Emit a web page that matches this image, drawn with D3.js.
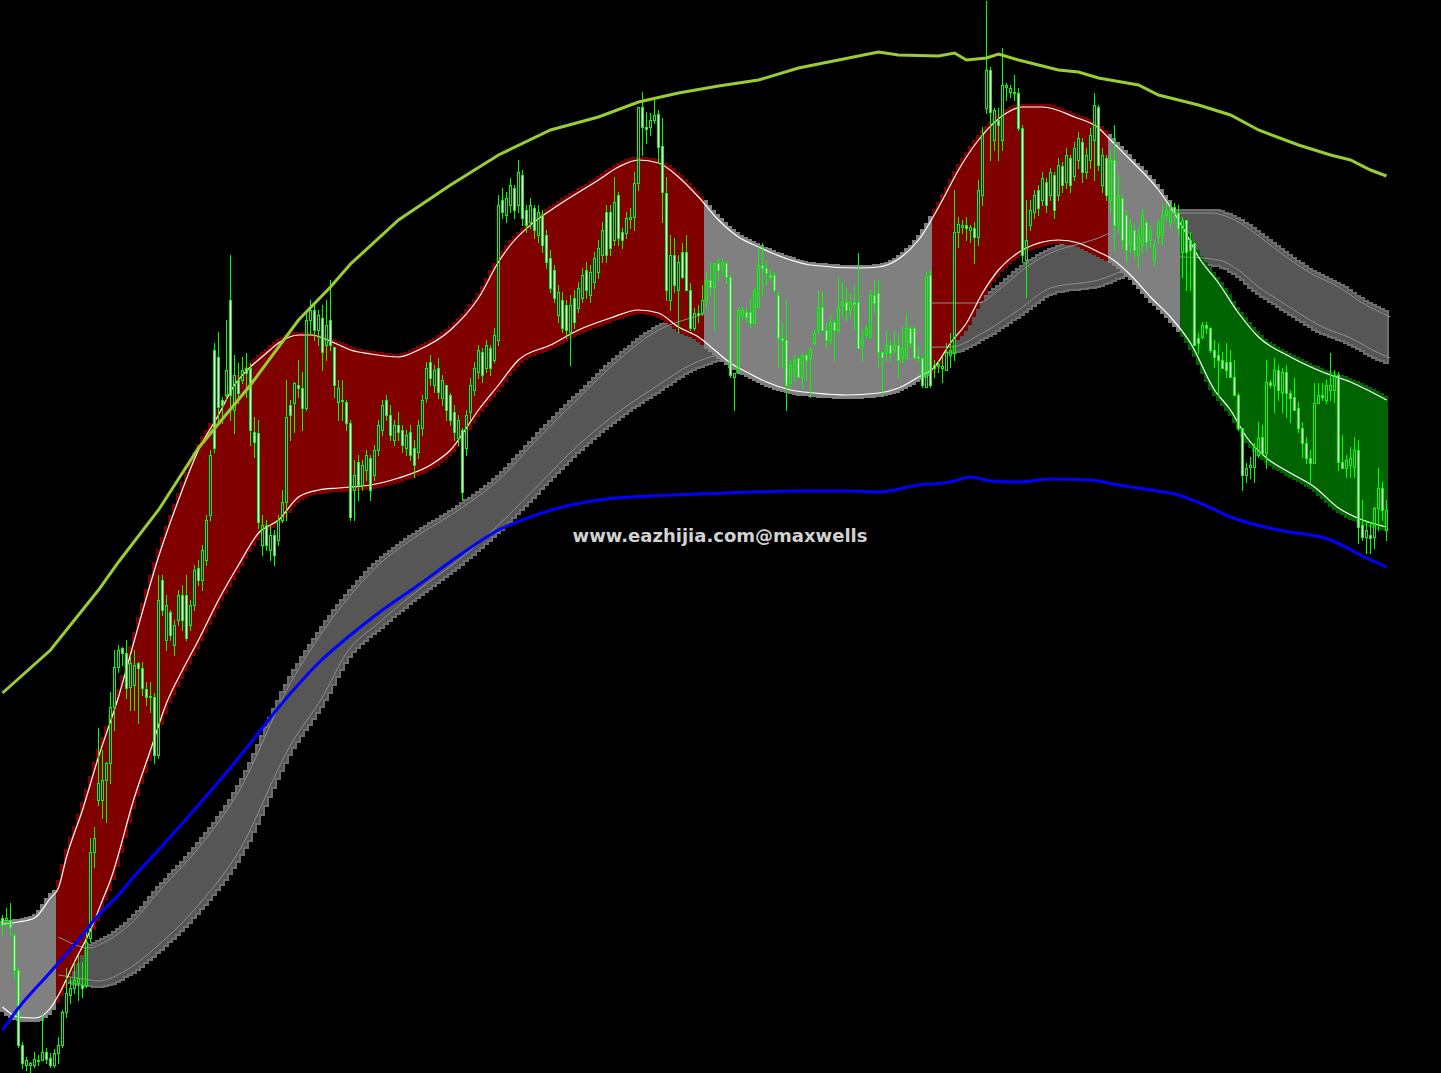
<!DOCTYPE html>
<html><head><meta charset="utf-8">
<script src="https://cdn.jsdelivr.net/npm/d3@7"></script>
<style>html,body{margin:0;padding:0;background:#000;overflow:hidden}</style>
</head><body>
<svg id="chart" width="1441" height="1073"></svg>
<script>
// ---------- DATA (price units; bar index 0..346) ----------
const candleOpen = [1082,1080,1080,1065,1030,955,935,935,935,940,940,948,942,935,947,955,988,1005,1012,1017,1015,1015,1062,1148,1200,1200,1220,1237,1293,1333,1352,1347,1313,1315,1337,1332,1311,1304,1303,1245,
1420,1360,1388,1355,1380,1405,1405,1375,1395,1432,1420,1440,1485,1650,1643,1600,1605,1700,1590,1620,
1620,1632,1632,1568,1567,1455,1475,1450,1465,1460,1480,1498,1595,1597,1615,1612,1592,1680,1690,1670,
1682,1655,1680,1653,1598,1600,1598,1577,1510,1538,1515,1530,1542,1525,1550,1570,1600,1585,1560,1575,
1570,1552,1568,1552,1548,1572,1602,1638,1615,1632,1602,1615,1605,1588,1562,1570,1552,1588,1610,1628,
1648,1632,1652,1640,1660,1800,1785,1795,1812,1795,1825,1790,1778,1792,1765,1785,1765,1742,1730,1685,
1700,1695,1668,1702,1692,1702,1730,1705,1718,1728,1745,1788,1788,1760,1805,1768,1767,1781,1783,1817,
1893,1873,1873,1880,1886,1854,1807,1700,1745,1710,1748,1748,1710,1672,1687,1687,1700,1720,1713,1737,
1734,1737,1723,1623,1627,1685,1688,1688,1677,1693,1735,1732,1725,1725,1705,1662,1660,1617,1630,1642,
1623,1645,1642,1657,1670,1693,1670,1660,1678,1670,1695,1698,1690,1698,1698,1655,1665,1663,1705,1707,
1648,1647,1655,1650,1655,1642,1642,1672,1672,1644,1642,1613,1725,1635,1634,1632,1630,1645,1647,1768,
1773,1775,1770,1772,1763,1805,1892,1930,1860,1880,1860,1913,1908,1907,1907,1872,1740,1775,1788,1810,
1800,1818,1805,1825,1805,1834,1818,1842,1824,1840,1858,1828,1840,1860,1893,1815,1842,1800,1840,1775,
1802,1785,1755,1770,1745,1755,1778,1760,1740,1763,1765,1785,1778,1793,1787,1748,1780,1760,1757,1662,
1663,1675,1672,1650,1645,1640,1638,1638,1623,1605,1572,1525,1533,1533,1545,1563,1547,1618,1615,1630,
1608,1628,1607,1603,1592,1572,1557,1542,1537,1597,1605,1600,1610,1610,1625,1538,1532,1535,1533,1550,
1475,1463,1465,1463,1492,1512,1470];
const candleHigh = [1085,1092,1097,1067,1032,958,943,938,948,945,985,952,947,951,963,990,1032,1023,1038,1045,1038,1070,1162,1173,1272,1250,1238,1308,1350,1355,1353,1360,1345,1350,1338,1338,1318,1318,1307,1425,
1425,1405,1390,1380,1410,1415,1425,1400,1435,1440,1455,1485,1550,1657,1668,1603,1680,1745,1645,1637,
1643,1647,1637,1583,1580,1485,1480,1475,1470,1485,1510,1620,1600,1618,1640,1628,1690,1700,1695,1690,
1695,1700,1720,1653,1620,1620,1600,1580,1540,1545,1540,1550,1545,1555,1580,1600,1605,1595,1580,1588,
1575,1570,1575,1560,1580,1605,1638,1645,1635,1642,1625,1615,1607,1595,1585,1572,1590,1622,1638,1655,
1652,1660,1655,1672,1805,1812,1808,1822,1815,1840,1830,1795,1802,1795,1795,1790,1770,1750,1735,1715,
1708,1700,1705,1710,1718,1732,1738,1735,1748,1760,1778,1795,1795,1823,1808,1772,1788,1792,1828,1893,
1908,1888,1887,1902,1890,1882,1823,1765,1762,1745,1757,1765,1717,1692,1695,1715,1728,1737,1737,1742,
1742,1738,1725,1627,1693,1693,1693,1702,1712,1753,1757,1740,1730,1728,1708,1677,1700,1640,1645,1643,
1647,1647,1653,1670,1710,1708,1677,1685,1680,1723,1718,1712,1707,1715,1747,1670,1675,1710,1720,1720,
1648,1670,1660,1670,1665,1673,1687,1673,1673,1655,1643,1728,1730,1640,1640,1643,1657,1667,1810,1783,
1780,1783,1775,1778,1820,1873,1999,1933,1892,1892,1952,1917,1915,1925,1912,1875,1800,1800,1810,1815,
1828,1822,1832,1828,1842,1838,1852,1845,1858,1868,1862,1852,1872,1907,1895,1852,1845,1850,1875,1825,
1805,1790,1782,1775,1772,1792,1780,1775,1760,1780,1795,1798,1798,1797,1795,1783,1780,1768,1758,1667,
1678,1678,1673,1660,1657,1648,1657,1650,1640,1607,1572,1537,1543,1557,1578,1575,1640,1620,1642,1635,
1632,1635,1610,1622,1598,1578,1563,1550,1617,1617,1617,1620,1647,1630,1628,1565,1545,1553,1563,1560,
1500,1480,1478,1493,1532,1518,1500];
const candleLow = [1065,1075,1065,1022,953,932,930,927,933,935,940,937,933,933,937,953,983,997,1007,1000,1003,1013,1058,1133,1195,1182,1178,1217,1270,1328,1335,1302,1290,1290,1277,1305,1295,1288,1237,1242,
1385,1350,1360,1345,1375,1370,1360,1370,1390,1415,1410,1435,1480,1548,1577,1577,1600,1580,1567,1597,
1617,1603,1555,1543,1472,1445,1450,1440,1435,1455,1478,1480,1560,1568,1603,1570,1590,1665,1660,1655,
1630,1640,1650,1603,1580,1580,1570,1480,1480,1500,1510,1520,1500,1520,1545,1565,1580,1560,1555,1560,
1548,1545,1540,1523,1542,1565,1598,1615,1608,1602,1595,1580,1575,1560,1555,1500,1545,1580,1605,1622,
1618,1628,1625,1638,1655,1782,1778,1788,1782,1788,1775,1768,1772,1762,1758,1748,1732,1708,1698,1678,
1668,1662,1635,1672,1688,1698,1702,1698,1712,1722,1738,1738,1745,1755,1755,1752,1762,1772,1770,1810,
1845,1857,1865,1877,1837,1778,1700,1690,1708,1668,1722,1710,1670,1670,1678,1685,1692,1705,1670,1720,
1725,1717,1623,1590,1627,1682,1678,1673,1677,1693,1705,1715,1720,1708,1633,1633,1590,1613,1620,1623,
1612,1620,1603,1655,1667,1670,1653,1657,1640,1668,1683,1680,1682,1672,1652,1640,1662,1663,1688,1633,
1605,1640,1640,1647,1623,1638,1642,1653,1642,1640,1613,1613,1613,1623,1628,1618,1630,1633,1640,1753,
1767,1760,1758,1737,1755,1795,1887,1840,1850,1840,1850,1900,1903,1900,1870,1738,1703,1770,1782,1785,
1795,1788,1800,1782,1800,1808,1812,1808,1820,1832,1818,1822,1832,1820,1830,1808,1800,1788,1750,1768,
1752,1738,1748,1742,1732,1748,1750,1753,1735,1757,1755,1778,1772,1777,1765,1723,1710,1710,1655,1647,
1662,1667,1648,1633,1605,1632,1623,1623,1605,1570,1510,1518,1522,1518,1543,1547,1532,1613,1588,1600,
1588,1583,1578,1590,1568,1543,1537,1518,1537,1597,1600,1597,1600,1598,1530,1532,1523,1523,1523,1457,
1460,1447,1447,1452,1470,1480,1460];
const candleClose = [1075,1082,1073,1030,955,937,940,937,941,939,948,941,935,947,955,988,1007,1012,1020,1022,1012,1058,1148,1162,1217,1220,1237,1293,1333,1350,1347,1312,1337,1335,1332,1312,1303,1303,1245,1400,
1390,1395,1365,1375,1405,1380,1362,1395,1430,1420,1450,1480,1545,1552,1593,1595,1630,1605,1625,1607,
1630,1627,1570,1558,1478,1475,1455,1465,1445,1480,1498,1583,1585,1617,1612,1592,1680,1690,1670,1685,
1648,1675,1655,1615,1612,1599,1577,1483,1525,1515,1535,1545,1510,1550,1575,1595,1585,1565,1575,1568,
1555,1565,1545,1535,1575,1600,1632,1622,1630,1608,1620,1590,1580,1568,1580,1508,1585,1615,1632,1650,
1625,1655,1632,1665,1795,1788,1802,1815,1790,1828,1782,1775,1795,1770,1788,1755,1738,1712,1702,1708,
1672,1670,1695,1678,1712,1725,1710,1728,1742,1752,1770,1745,1752,1798,1762,1760,1782,1783,1817,1893,
1873,1871,1880,1885,1853,1808,1710,1745,1715,1738,1723,1710,1672,1687,1685,1700,1720,1713,1737,1730,
1738,1723,1625,1627,1690,1690,1683,1677,1710,1735,1732,1727,1723,1710,1662,1660,1615,1635,1640,1623,
1645,1640,1652,1667,1693,1670,1660,1678,1670,1693,1698,1690,1698,1696,1652,1662,1672,1705,1697,1648,
1643,1655,1647,1655,1640,1652,1672,1657,1642,1642,1615,1723,1615,1632,1636,1634,1648,1650,1768,1776,
1775,1772,1773,1763,1810,1865,1930,1888,1890,1875,1915,1915,1912,1908,1872,1745,1760,1790,1805,1792,
1822,1795,1828,1790,1835,1815,1845,1815,1852,1862,1828,1845,1865,1895,1835,1845,1805,1840,1775,1805,
1760,1750,1775,1750,1765,1785,1758,1770,1755,1778,1785,1790,1790,1787,1772,1780,1748,1750,1655,1657,
1675,1672,1650,1643,1640,1632,1630,1623,1605,1572,1525,1532,1535,1553,1562,1547,1618,1615,1630,1610,
1628,1607,1602,1590,1572,1557,1542,1537,1597,1605,1603,1615,1615,1625,1538,1532,1540,1542,1550,1473,
1463,1470,1462,1492,1512,1490,1490];

// yellow-green envelope [barIndex, price]
const envelopeLine = [[0,1307],[12,1350],[24,1410],[29,1438],[39,1490],[49,1552],[62,1615],[74,1680],[82,1713],[87,1736],[99,1780],[112,1815],[124,1845],[137,1870],[149,1883],[159,1898],[169,1907],[179,1914],[189,1920],[199,1932],[209,1940],[219,1948],[224,1945],[234,1944],[238,1947],[241,1940],[246,1942],[249,1946],[254,1940],[259,1935],[264,1930],[269,1928],[274,1922],[284,1915],[289,1905],[299,1895],[307,1885],[314,1870],[324,1855],[332,1845],[337,1840],[342,1830],[346,1824]];
// blue moving average
const blueLine = [[0,970],[4,992],[12,1028],[19,1060],[24,1085],[29,1105],[33,1124],[39,1150],[49,1195],[59,1242],[71,1302],[79,1337],[87,1365],[94,1387],[104,1415],[114,1444],[124,1470],[132,1483],[139,1492],[149,1500],[162,1504],[174,1506],[187,1508],[199,1509],[212,1509],[219,1508],[229,1515],[237,1518],[242,1523],[247,1519],[254,1518],[262,1521],[272,1520],[279,1515],[287,1510],[294,1505],[301,1494],[307,1483],[319,1470],[332,1460],[341,1442],[346,1433]];
// channel upper / lower
const channelUpper = [[0,1076],[4,1078],[8,1082],[12,1102],[14,1112],[16,1143],[20,1190],[24,1243],[29,1303],[33,1360],[39,1443],[44,1500],[49,1550],[54,1585],[58,1615],[62,1633],[66,1647],[69,1657],[74,1665],[77,1665],[83,1657],[87,1650],[92,1646],[99,1643],[104,1650],[112,1670],[119,1702],[124,1738],[127,1755],[132,1775],[139,1795],[149,1820],[154,1833],[159,1840],[164,1837],[169,1823],[174,1803],[179,1780],[184,1763],[189,1753],[197,1740],[202,1735],[214,1732],[219,1733],[224,1741],[229,1760],[235,1800],[239,1830],[244,1860],[251,1887],[255,1893],[260,1893],[268,1883],[274,1872],[277,1860],[282,1840],[289,1810],[295,1773],[299,1743],[304,1717],[309,1687],[314,1663],[322,1643],[330,1628],[337,1618],[346,1600]];
const channelLower = [[0,993],[4,983],[8,982],[12,992],[14,1005],[18,1038],[22,1070],[25,1100],[27,1120],[33,1203],[37,1250],[41,1297],[45,1330],[49,1360],[54,1400],[59,1435],[64,1467],[69,1480],[74,1503],[79,1510],[84,1512],[87,1513],[92,1515],[99,1522],[107,1535],[112,1550],[119,1590],[124,1615],[129,1640],[137,1655],[144,1670],[152,1682],[159,1690],[164,1687],[169,1673],[174,1663],[178,1650],[182,1637],[186,1628],[191,1618],[197,1610],[203,1607],[211,1605],[219,1607],[224,1612],[229,1623],[233,1633],[237,1657],[241,1677],[245,1707],[249,1730],[255,1750],[260,1758],[264,1760],[269,1757],[274,1748],[277,1742],[282,1725],[287,1703],[292,1683],[297,1657],[303,1610],[307,1590],[311,1563],[316,1542],[322,1527],[328,1513],[334,1492],[340,1480],[346,1473]];
// channel colour segments (start bar) ; last ends at bar 347
const segmentStart = [0,14,176,233,277,295];
const segmentState = ['flat','up','flat','up','flat','down'];
// grey band inner lines
const bandUpper = [[14,1063],[22,1052],[24,1055],[33,1080],[39,1108],[49,1152],[59,1208],[72,1317],[77,1350],[86,1400],[94,1435],[104,1465],[114,1490],[124,1520],[134,1562],[144,1602],[154,1640],[164,1670],[172,1682],[179,1690],[199,1697],[237,1697],[244,1697],[249,1710],[256,1733],[262,1747],[270,1757],[274,1762],[282,1778],[293,1787],[302,1787],[307,1782],[312,1770],[317,1755],[322,1740],[327,1727],[334,1713],[340,1697],[347,1683]];
const bandLower = [[14,1025],[22,1020],[24,1019],[31,1030],[39,1055],[49,1095],[59,1148],[72,1255],[80,1303],[86,1347],[94,1377],[104,1410],[114,1440],[124,1475],[134,1515],[144,1555],[154,1588],[164,1615],[172,1635],[179,1645],[199,1652],[237,1653],[245,1667],[254,1690],[262,1712],[274,1720],[282,1732],[295,1743],[304,1740],[309,1730],[314,1713],[319,1700],[324,1687],[330,1673],[337,1662],[344,1647],[347,1642]];
const watermark = "www.eazhijia.com@maxwells";

// ---------- SCALES ----------
const W = 1441, H = 1073;
const x = d3.scaleLinear().domain([0, 346]).range([2.5, 1386.5]);
const y = d3.scaleLinear().domain([927, 2000]).range([H, 0]);
const colors = {flat:'#808080', up:'#800000', down:'#006400'};

const svg = d3.select('#chart');
svg.append('rect').attr('width', W).attr('height', H).attr('fill', '#000');
const tmp = svg.append('g').attr('visibility', 'hidden');

function sampler(pts, curve){
  const d = d3.line().x(p=>x(p[0])).y(p=>y(p[1])).curve(curve)(pts);
  const node = tmp.append('path').attr('d', d).node();
  const L = node.getTotalLength();
  const arr = [];
  for (let s = 0; s <= L; s += 0.5){ const q = node.getPointAtLength(s); arr.push([q.x, q.y]); }
  arr.sort((a,b)=>a[0]-b[0]);
  return function(px){
    if (px <= arr[0][0]) return arr[0][1];
    if (px >= arr[arr.length-1][0]) return arr[arr.length-1][1];
    let lo = 0, hi = arr.length-1;
    while (hi - lo > 1){ const m = (lo+hi)>>1; if (arr[m][0] <= px) lo = m; else hi = m; }
    const a = arr[lo], b = arr[hi];
    const t = b[0] === a[0] ? 0 : (px - a[0])/(b[0]-a[0]);
    return a[1] + t*(b[1]-a[1]);
  };
}
const curve = d3.curveMonotoneX;
const fCU = sampler(channelUpper, curve), fCL = sampler(channelLower, curve);
const fBU = sampler(bandUpper, curve), fBL = sampler(bandLower, curve);

// stepped polygon between two functions over bar range
function steppedPath(i0, i1, fTop, fBot, padTop, padBot){
  const top = [], bot = [];
  for (let i = i0; i < i1; i++){
    const xl = Math.round(x(i) - 2.5), xr = xl + 4;
    const t = Math.round(Math.min(fTop(xl), fTop(xl+2), fTop(xr)) - padTop);
    const b = Math.round(Math.max(fBot(xl), fBot(xl+2), fBot(xr)) + padBot);
    top.push([xl, t], [xr, t]);
    bot.push([xl, b], [xr, b]);
  }
  bot.reverse();
  return 'M' + top.concat(bot).map(p=>p.join(',')).join('L') + 'Z';
}

// grey band fill
svg.append('path').attr('d', steppedPath(14, 347, fBU, fBL, 3, 6))
  .attr('fill', '#565656').attr('stroke', '#6e6e6e').attr('stroke-width', 1.5)
  .attr('shape-rendering', 'crispEdges');

const segEnd = segmentStart.slice(1).concat([347]);
const chanG = svg.append('g');
segmentStart.forEach((s, k) => {
  if (segmentState[k] === 'flat') return;
  chanG.append('path').attr('d', steppedPath(s, segEnd[k], fCU, fCL, 3, 4))
    .attr('fill', colors[segmentState[k]]).attr('shape-rendering', 'crispEdges');
});

// grey band inner lines
const lineGen = d3.line().x(p=>x(p[0])).y(p=>y(p[1])).curve(curve);
svg.append('path').attr('d', lineGen(bandUpper)).attr('fill','none').attr('stroke','#8e8e8e').attr('stroke-width',1);
svg.append('path').attr('d', lineGen(bandLower)).attr('fill','none').attr('stroke','#8e8e8e').attr('stroke-width',1);

const chanG2 = svg.append('g');
segmentStart.forEach((s, k) => {
  if (segmentState[k] !== 'flat') return;
  chanG2.append('path').attr('d', steppedPath(s, segEnd[k], fCU, fCL, 3, 4))
    .attr('fill', colors.flat).attr('shape-rendering', 'crispEdges');
});

// channel white lines
svg.append('path').attr('d', lineGen(channelUpper)).attr('fill','none').attr('stroke','#fff').attr('stroke-width',1.2);
svg.append('path').attr('d', lineGen(channelLower)).attr('fill','none').attr('stroke','#fff').attr('stroke-width',1.2);

// candles
const cg = svg.append('g').attr('shape-rendering','crispEdges');
candleOpen.forEach((o, i) => {
  const h = candleHigh[i], l = candleLow[i], c = candleClose[i];
  const cx = Math.round(x(i) - 0.5) + 0.5;
  const yt = Math.round(y(Math.max(o,c))) + 0.5;
  const yb = Math.max(yt + 1, Math.round(y(Math.min(o,c))) + 0.5);
  const yh = Math.round(y(h)), yl = Math.round(y(l)) + 1;
  if (yh < yt) cg.append('line').attr('x1',cx).attr('x2',cx).attr('y1',yh).attr('y2',yt).attr('stroke','#00ff00').attr('stroke-width',1);
  if (yl > yb) cg.append('line').attr('x1',cx).attr('x2',cx).attr('y1',yb).attr('y2',yl).attr('stroke','#00ff00').attr('stroke-width',1);
  cg.append('rect').attr('x', cx-1).attr('y', yt).attr('width', 2).attr('height', yb-yt)
    .attr('fill', c < o ? '#fff' : 'none').attr('stroke','#00ff00').attr('stroke-width',1);
});

// envelope & blue lines
svg.append('path').attr('d', d3.line().x(p=>x(p[0])).y(p=>y(p[1]))(envelopeLine)).attr('fill','none').attr('stroke','#9acd32').attr('stroke-width',3);
svg.append('path').attr('d', d3.line().x(p=>x(p[0])).y(p=>y(p[1])).curve(d3.curveMonotoneX)(blueLine)).attr('fill','none').attr('stroke','#0000ff').attr('stroke-width',3);

// watermark
svg.append('text').attr('x', 720).attr('y', 542).attr('text-anchor','middle')
  .attr('font-family','DejaVu Sans, sans-serif').attr('font-weight','bold').attr('font-size',18)
  .attr('fill','#d2d2d2').text(watermark);
</script>
</body></html>
